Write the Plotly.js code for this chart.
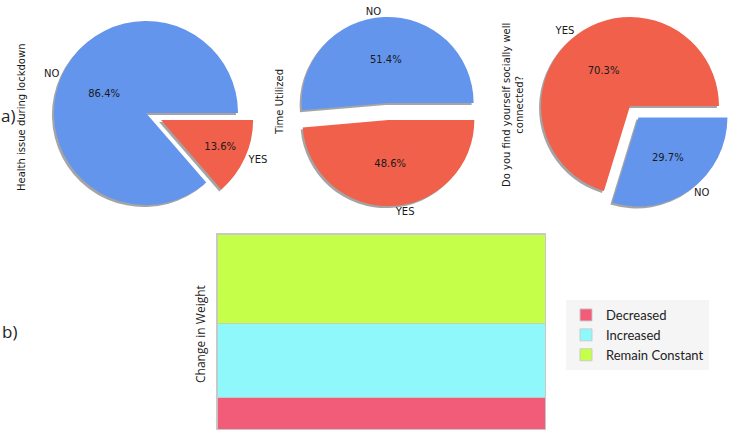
<!DOCTYPE html>
<html>
<head>
<meta charset="utf-8">
<script src="https://cdn.plot.ly/plotly-3.0.1.min.js"></script>
<style>
  html, body { margin: 0; padding: 0; background: #ffffff; }
  #chart { width: 738px; height: 435px; }
</style>
</head>
<body>
<div id="chart"></div>
<script>
// survey answers
const healthLabels = ['NO', 'YES'];
const healthValues = [19, 3];

const timeLabels = ['NO', 'YES'];
const timeValues = [19, 18];

const socialLabels = ['YES', 'NO'];
const socialValues = [26, 11];

const weightCategories = ['Decreased', 'Increased', 'Remain Constant'];
const weightValues = [6, 14, 17];

const BLUE = '#6495ed';
const RED = '#f0604a';
const weightColors = ['#f25c79', '#8ff8fa', '#c5ff4a'];

const W = 738, H = 435;
const pieFont = 'DejaVu Sans, sans-serif';

// pixel box -> paper domain
function dom(cx, cy, half) {
    return {
        x: [(cx - half) / W, (cx + half) / W],
        y: [1 - (cy + half) / H, 1 - (cy - half) / H]
    };
}
function shift(d, dx, dy) {
    return {
        x: [d.x[0] + dx / W, d.x[1] + dx / W],
        y: [d.y[0] - dy / H, d.y[1] - dy / H]
    };
}

// each pie: shadow, slices with percent, transparent overlay for outer labels
// slices start at 3 o'clock going counterclockwise, so feed them reversed and clockwise
function pieSet(labels, values, colors, pull, d) {
    const rev = a => a.slice().reverse();
    const base = {
        type: 'pie',
        labels: rev(labels),
        values: rev(values),
        sort: false,
        direction: 'clockwise',
        rotation: 90,
        pull: rev(pull),
        showlegend: false,
        hoverinfo: 'label+percent'
    };
    const shadow = Object.assign({}, base, {
        domain: shift(d, -2, 2),
        marker: { colors: labels.map(() => 'rgba(90,90,90,0.55)') },
        textinfo: 'none',
        hoverinfo: 'skip'
    });
    const main = Object.assign({}, base, {
        domain: d,
        marker: { colors: rev(colors) },
        textposition: 'inside',
        insidetextorientation: 'horizontal',
        texttemplate: '%{percent:.1%}',
        insidetextfont: { family: pieFont, size: 10, color: '#1a1a1a' }
    });
    const outer = Object.assign({}, base, {
        domain: d,
        marker: { colors: labels.map(() => 'rgba(0,0,0,0)') },
        textposition: 'outside',
        texttemplate: '%{label}',
        outsidetextfont: { family: pieFont, size: 10, color: '#1a1a1a' },
        hoverinfo: 'skip'
    });
    return [shadow, main, outer];
}

const traces = [].concat(
    pieSet(healthLabels, healthValues, [BLUE, RED], [0, 0.18], dom(146, 113, 108.6)),
    pieSet(timeLabels, timeValues, [BLUE, RED], [0.1, 0.1], dom(388, 111.5, 94.6)),
    pieSet(socialLabels, socialValues, [RED, BLUE], [0, 0.16], dom(630, 106, 103.2))
);

// stacked bar for change in weight
weightCategories.forEach((name, i) => {
    traces.push({
        type: 'bar',
        x: [''],
        y: [weightValues[i]],
        name: name,
        marker: { color: weightColors[i], line: { color: 'rgba(200,200,200,0.9)', width: 1 } },
        hoverinfo: 'name+y'
    });
});

const total = weightValues.reduce((a, b) => a + b, 0);

const layout = {
    width: W,
    height: H,
    margin: { l: 0, r: 0, t: 0, b: 0 },
    paper_bgcolor: '#ffffff',
    plot_bgcolor: '#ffffff',
    barmode: 'stack',
    bargap: 0,
    xaxis: {
        domain: [217 / W, 545 / W],
        range: [-0.5, 0.5],
        showticklabels: false,
        ticks: '',
        showgrid: false,
        zeroline: false,
        showline: true,
        mirror: true,
        linecolor: '#c8c8c8',
        linewidth: 1,
        fixedrange: true
    },
    yaxis: {
        domain: [1 - 429 / H, 1 - 234 / H],
        range: [0, total],
        showticklabels: false,
        ticks: '',
        showgrid: false,
        zeroline: false,
        showline: true,
        mirror: true,
        linecolor: '#c8c8c8',
        linewidth: 1,
        fixedrange: true
    },
    showlegend: true,
    legend: {
        x: 566 / W,
        y: 1 - 300 / H,
        xanchor: 'left',
        yanchor: 'top',
        traceorder: 'normal',
        bgcolor: '#f5f5f5',
        itemwidth: 30,
        font: { family: 'Lato, sans-serif', size: 13, color: '#222' }
    },
    annotations: [
        { text: 'a)', x: 8 / W, y: 1 - 116 / H, font: { family: 'Open Sans, sans-serif', size: 17, color: '#222' } },
        { text: 'b)', x: 9 / W, y: 1 - 331 / H, font: { family: 'Open Sans, sans-serif', size: 17, color: '#222' } },
        { text: 'Health issue during lockdown', x: 22 / W, y: 1 - 117 / H, textangle: -90,
          font: { family: pieFont, size: 10, color: '#1a1a1a' } },
        { text: 'Time Utilized', x: 279 / W, y: 1 - 102 / H, textangle: -90,
          font: { family: pieFont, size: 10, color: '#1a1a1a' } },
        { text: 'Do you find yourself socially well<br>connected?', x: 513 / W, y: 1 - 105 / H, textangle: -90,
          font: { family: pieFont, size: 10, color: '#1a1a1a' } },
        { text: 'Change in Weight', x: 200 / W, y: 1 - 334 / H, textangle: -90,
          font: { family: 'Open Sans, sans-serif', size: 12, color: '#222' } }
    ].map(a => Object.assign({ xref: 'paper', yref: 'paper', showarrow: false, xanchor: 'center', yanchor: 'middle' }, a))
};

Plotly.newPlot('chart', traces, layout, { displayModeBar: false, staticPlot: true });
</script>
</body>
</html>
